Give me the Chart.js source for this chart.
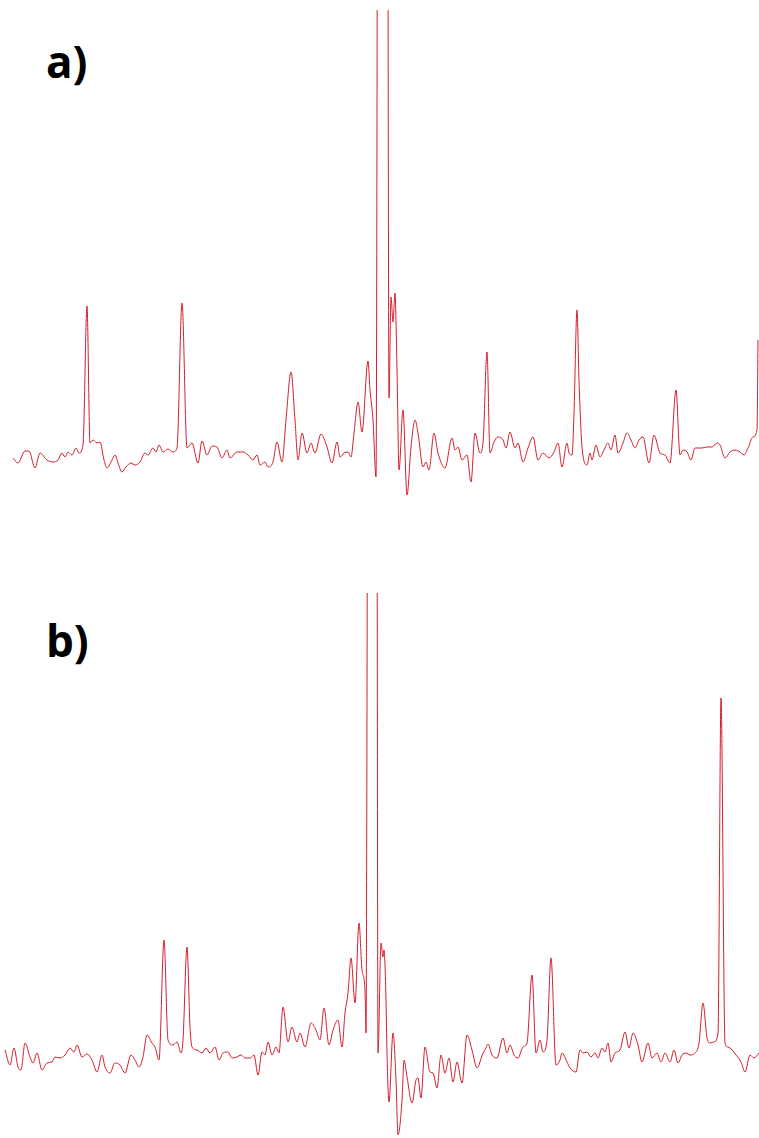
<!DOCTYPE html>
<html>
<head>
<meta charset="utf-8">
<script src="https://cdn.jsdelivr.net/npm/chart.js@4/dist/chart.umd.min.js"></script>
<style>
  body { margin: 0; background: #fff; width: 759px; height: 1138px; position: relative; overflow: hidden; }
  .lbl { position: absolute; font-family: "Open Sans", sans-serif; font-weight: 700; font-size: 44px; color: #000; line-height: 1; }
  canvas { position: absolute; left: 0; }
</style>
</head>
<body>
<div class="lbl" style="left:46px; top:39px;">a)</div>
<div class="lbl" style="left:46px; top:618px;">b)</div>
<canvas id="specA" width="759" height="500" style="top:10px"></canvas>
<canvas id="specB" width="759" height="545" style="top:593px"></canvas>
<script>
// spectrum a) - shift axis and intensity (baseline ~0)
var shiftA = [13,18,25,29,35,40,47,53,58,62,65,68,72,76,79,83,87,90,93,97,100,104,107,112,115,118,122,126,131,135,140,145,148,153,156,159,163,168,173,177,182,187,192,198,202,207,212,217,222,227,230,237,243,248,253,257,260,265,268,273,277,282,286,291,295,298,302,307,311,315,321,327,332,337,340,344,348,351,354,358,362,368,370,373,376,379,383,386.5,389,391,393,395,397,399,403,407,411,415,418,423,426,429,434,438,445,452,455,458,462,467,471,475,480,483,487,490,494,498,503,506,510,515,518,523,528,533,538,543,549,554,558,562,567,569,572,574,577,579,582,587,590,592,596,600,604,608,611,615,618,623,627,631,635,639,643,649,654,660,665,670,676,680,683,687,691,695,702,707,712,717,720,725,730,735,740,744,748,753,757,758];
var intA = [2,-3,9,9,-8,7,0,-2,0,7,3,8,5,12,7,15,154,17,20,17,18,0,-8,0,5,-3,-12,-7,-3,-5,-2,7,5,12,8,15,8,11,8,12,157,12,17,-3,19,5,14,13,2,10,2,8,8,5,0,5,-5,-2,-7,-2,18,-2,40,88,40,0,27,7,17,7,26,13,-3,18,3,7,8,3,27,58,28,99,70,40,-17,1400,800,1400,62,163,138,167,90,-10,50,-35,13,40,27,-7,-2,-10,27,7,-8,22,10,13,0,5,-22,27,7,17,108,7,18,23,20,12,28,12,17,-2,12,23,0,7,2,8,17,-7,17,7,5,47,150,80,13,-5,7,0,15,3,10,17,10,25,7,17,27,20,12,20,23,-3,25,7,5,-3,70,5,10,8,0,12,12,13,13,17,15,2,8,10,8,5,12,23,30,120];

// spectrum b)
var shiftB = [5,10,14,18,21,25,30,33,37,42,47,52,55,60,65,70,74,77,82,87,92,97,102,105,110,115,120,125,131,135,139,143,147,152,155,159,164,168,173,177,181,183,187,190,192,197,202,206,210,215,219,223,228,232,237,241,245,250,254,258,262,265,268,272,276,279,283,288,292,297,300,305,311,316,320,324,329,333,338,342,345,348,351,355,359,362,365,366,367.5,369,372.5,376,378,381,383,384,386,387,389,393,396,398,402,404,407,412,416,418,421,425,430,433,437,441,445,449,453,457,462,467,472,477,483,485,488,492,497,503,507,510,514,518,523,527,532,536,540,543,547,551,556,560,562,567,570,576,580,583,587,591,595,598,602,605,608,611,615,620,625,629,633,638,642,648,652,657,661,665,670,674,678,682,686,690,695,699,703,707,710,714,718,721,725,728,732,736,741,745,750,754,759];
var intB = [0,-15,2,-17,-20,7,-7,-13,-3,-20,-13,-12,-7,-8,-5,2,-2,5,-7,-4,-10,-22,-5,-17,-23,-13,-15,-23,-5,-10,-17,-7,15,7,3,-10,110,10,5,8,-3,10,103,23,3,0,-3,2,-3,3,-10,-3,-2,-8,-7,-5,-8,-8,-5,-25,-2,-5,8,-5,3,-3,43,8,23,8,17,3,27,20,10,42,5,20,30,3,37,57,92,47,127,80,60,17,600,1400,800,1400,-3,107,93,100,50,-3,-52,17,-30,-85,-50,-10,-27,-53,-30,-28,-48,3,-22,-23,-38,-5,-23,-8,-32,-12,-33,15,0,-18,-3,0,6,-5,-8,12,-3,5,-5,-8,3,7,75,-3,10,-2,10,92,-15,-10,-3,-12,-18,-22,0,-3,-2,-7,-3,-8,2,-2,7,-12,-3,0,18,2,17,5,-12,7,-8,-3,-12,-3,-12,0,-13,-5,-3,-5,-3,7,47,12,7,8,17,352,7,3,0,-5,-12,-22,-5,-8,-3];

var lineColor = 'rgb(212,30,42)';

function toPoints(xs, ys) {
    var pts = [];
    for (var i = 0; i < xs.length; i++) {
        pts.push({ x: xs[i], y: ys[i] });
    }
    return pts;
}

function makeSpectrum(id, xs, ys, yMin, yMax) {
    return new Chart(document.getElementById(id), {
        type: 'line',
        data: {
            datasets: [{
                data: toPoints(xs, ys),
                borderColor: lineColor,
                borderWidth: 1,
                pointRadius: 0,
                cubicInterpolationMode: 'monotone',
                fill: false
            }]
        },
        options: {
            responsive: false,
            animation: false,
            devicePixelRatio: 1,
            layout: { padding: 0 },
            scales: {
                x: { type: 'linear', min: 0, max: 759, display: false },
                y: { min: yMin, max: yMax, display: false }
            },
            plugins: {
                legend: { display: false },
                tooltip: { enabled: false }
            }
        }
    });
}

var chartA = makeSpectrum('specA', shiftA, intA, -50, 450);
var chartB = makeSpectrum('specB', shiftB, intB, -88, 457);
</script>
</body>
</html>
